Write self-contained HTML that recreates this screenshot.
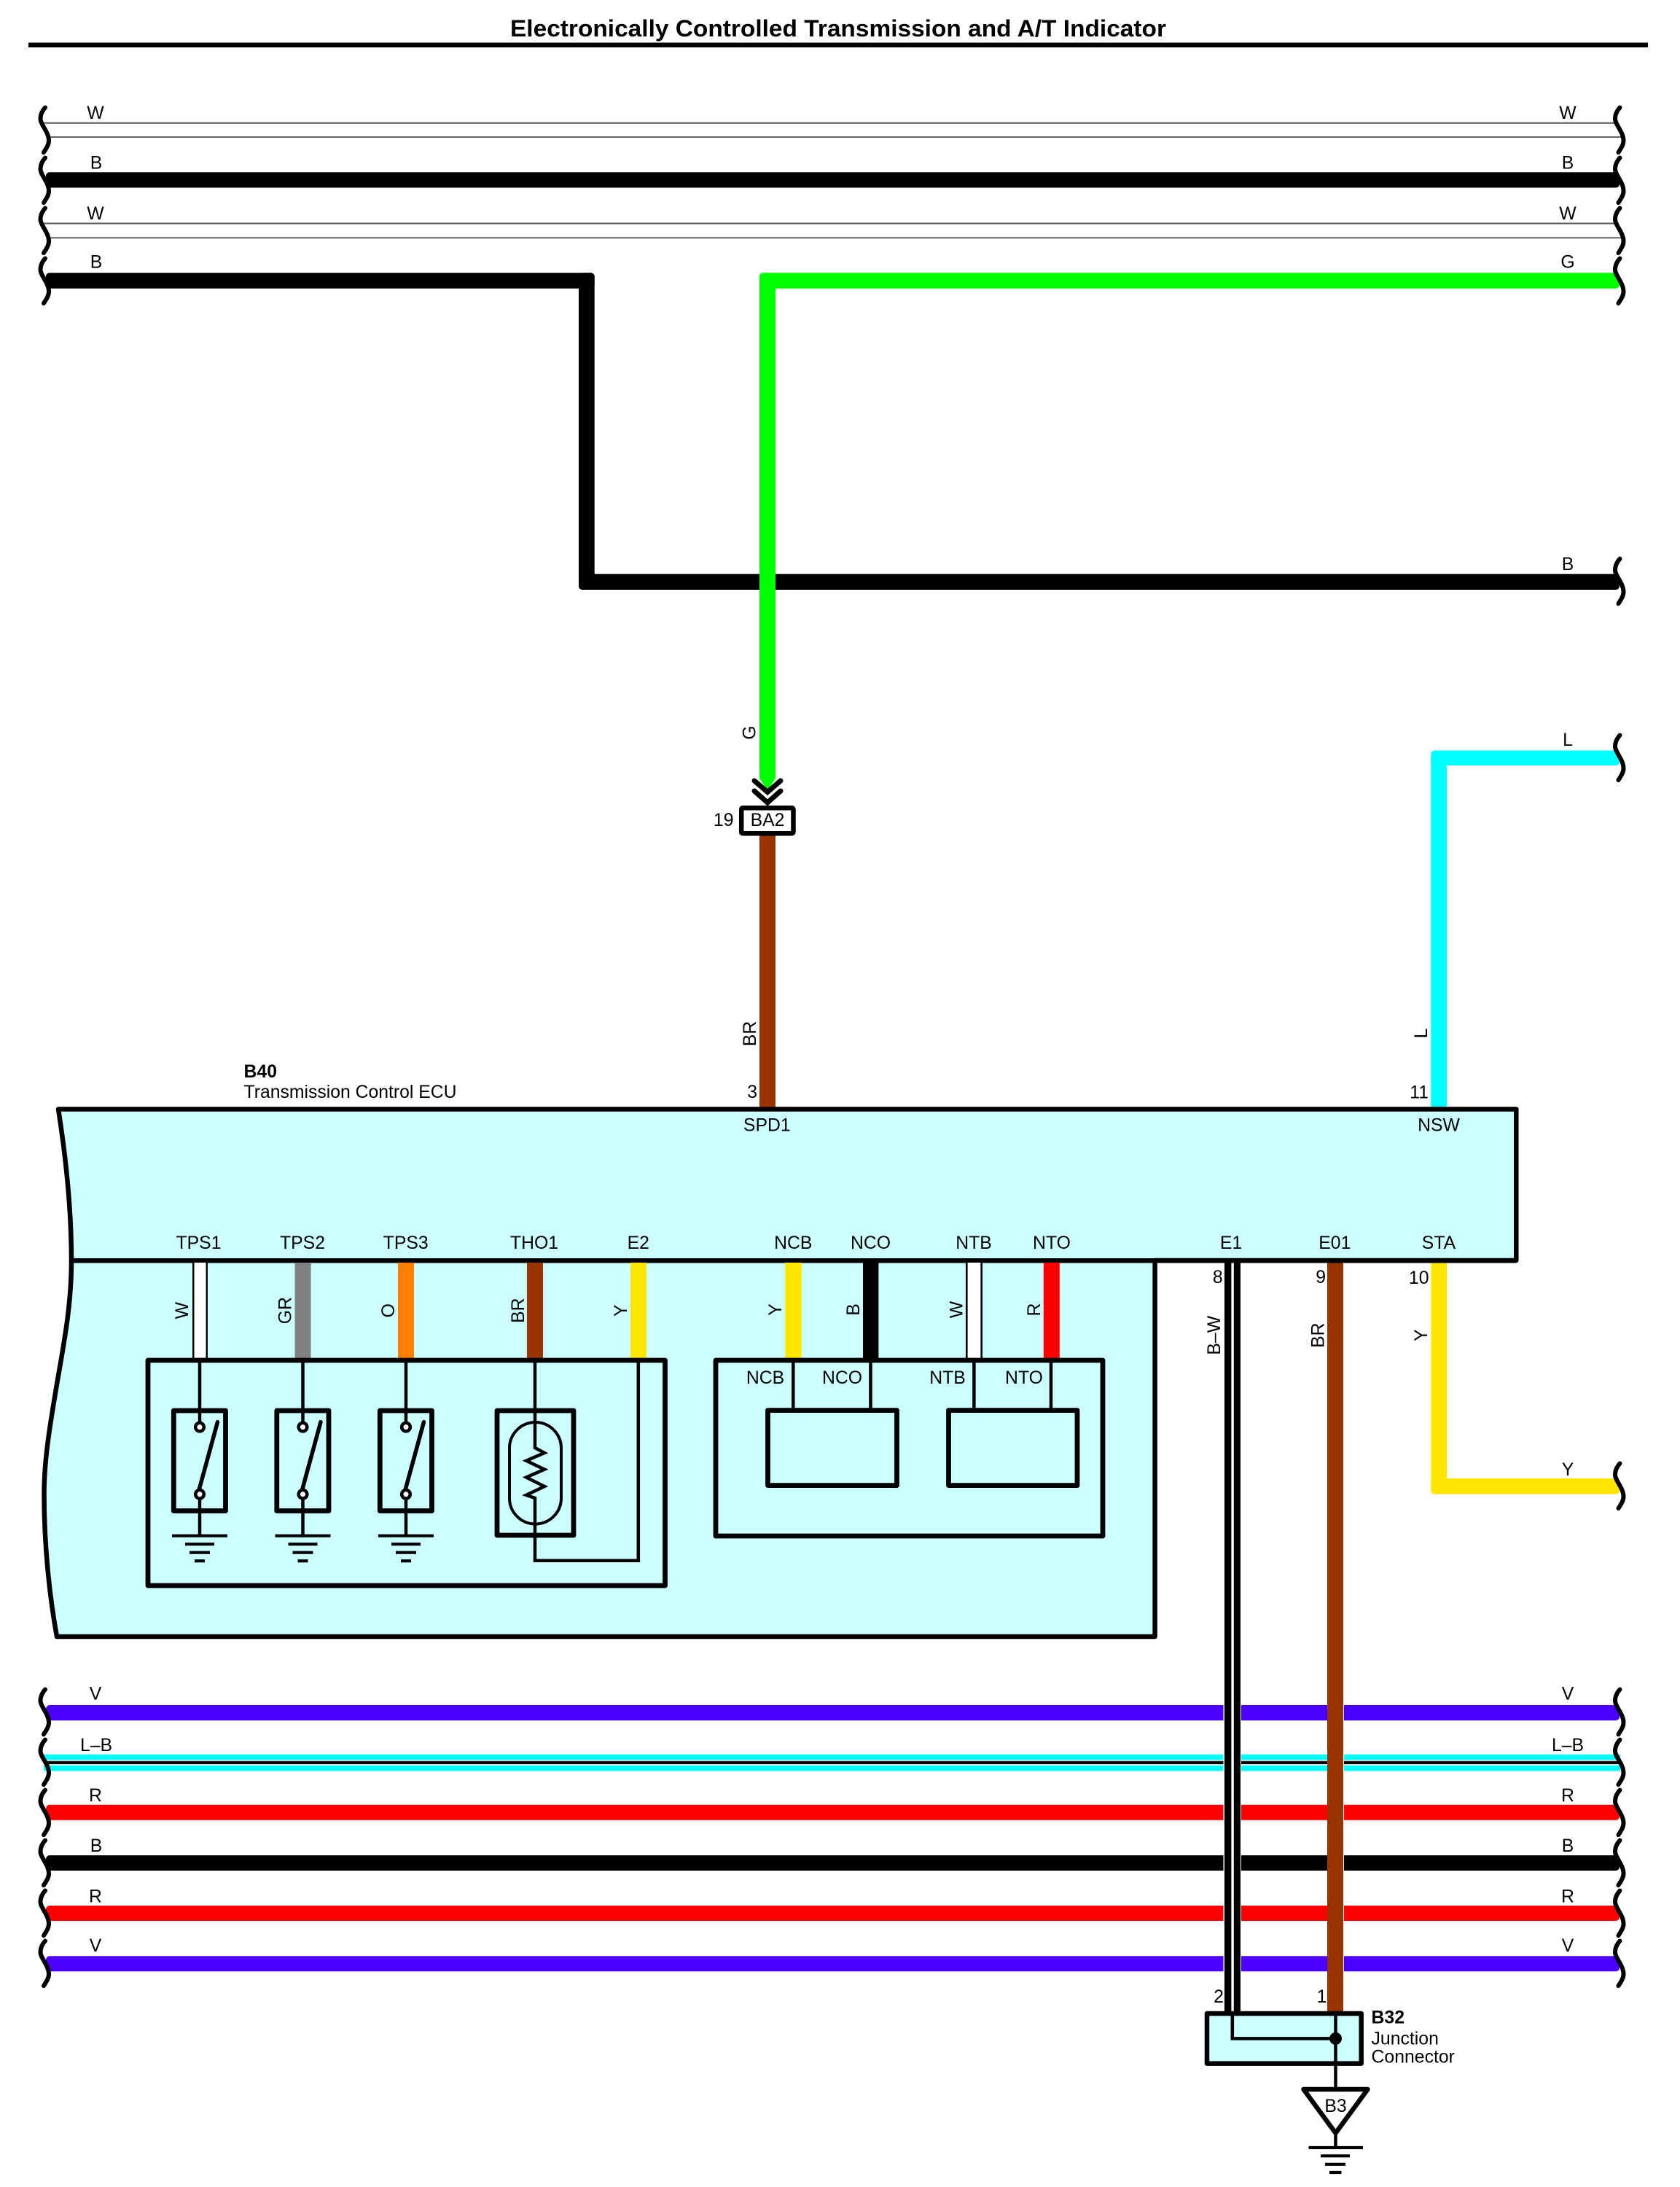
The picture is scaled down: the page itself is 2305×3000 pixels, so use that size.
<!DOCTYPE html>
<html>
<head>
<meta charset="utf-8">
<title>Electronically Controlled Transmission and A/T Indicator</title>
<style>
html,body{margin:0;padding:0;background:#fff}
svg{display:block}
text{font-family:"Liberation Sans",sans-serif;font-size:24.8px;fill:#000}
.m{text-anchor:middle}
.e{text-anchor:end}
.b{font-weight:bold}
.o{fill:none;stroke:#000;stroke-width:6.8;stroke-linejoin:round;stroke-linecap:round}
.t{fill:none;stroke:#000;stroke-width:4.5;stroke-linejoin:miter}
.g{stroke:#000;stroke-width:4.2}
</style>
</head>
<body>
<svg width="2305" height="3000" viewBox="0 0 2305 3000" xmlns="http://www.w3.org/2000/svg">
<defs>
<path id="sq" d="M62 2.5C57 8 55.5 13 55.5 18C55.5 26 67 36 67 48C67 54 63 59 60 64" fill="none" stroke="#000" stroke-width="6" stroke-linecap="round"/>
<g id="gnd">
<line class="g" x1="-38" x2="38" y1="0" y2="0"/>
<line class="g" x1="-20" x2="20" y1="11.5" y2="11.5"/>
<line class="g" x1="-14" x2="14" y1="23" y2="23"/>
<line class="g" x1="-7" x2="7" y1="34.5" y2="34.5"/>
</g>
<g id="sw">
<rect class="o" x="-35.7" y="1935" width="71.2" height="137.5" fill="none"/>
<line class="t" x1="0" x2="0" y1="1866" y2="1951"/>
<line class="t" x1="0" x2="0" y1="2056" y2="2106.7"/>
<line x1="-1" y1="2044" x2="24.5" y2="1950.6" stroke="#000" stroke-width="5.5" stroke-linecap="round"/>
<circle cx="0" cy="1957.6" r="5.8" fill="#fff" stroke="#000" stroke-width="4.5"/>
<circle cx="0" cy="2049.7" r="5.8" fill="#fff" stroke="#000" stroke-width="4.5"/>
<use href="#gnd" x="0" y="2106.7"/>
</g>
</defs>
<rect width="2305" height="3000" fill="#fff"/>

<!-- title -->
<text x="1150" y="50" class="m b" style="font-size:32.5px" textLength="900" lengthAdjust="spacingAndGlyphs">Electronically Controlled Transmission and A/T Indicator</text>
<rect x="39" y="58.5" width="2222" height="6.5" fill="#000"/>

<!-- top wires -->
<line x1="60" x2="2215" y1="168.7" y2="168.7" stroke="#555" stroke-width="2"/>
<line x1="68" x2="2225" y1="188" y2="188" stroke="#666" stroke-width="2"/>
<line x1="60" x2="2215" y1="306.5" y2="306.5" stroke="#555" stroke-width="2"/>
<line x1="68" x2="2225" y1="326.2" y2="326.2" stroke="#666" stroke-width="2"/>
<rect x="63" y="236.3" width="2159" height="21.2" rx="5" fill="#000"/>
<rect x="63" y="374.3" width="752.7" height="21.4" rx="5" fill="#000"/>
<rect x="794" y="374.3" width="21.7" height="434.7" rx="5" fill="#000"/>
<rect x="794" y="787.3" width="1428" height="21.7" rx="5" fill="#000"/>
<rect x="1042" y="374.3" width="1180" height="21.4" rx="5" fill="#00ff00"/>
<path d="M1042 380V1068L1053 1084L1064 1068V380Z" fill="#00ff00"/>
<rect x="1042" y="374.3" width="22" height="30" rx="5" fill="#00ff00"/>

<!-- chevrons & connector BA2 -->
<path d="M1035 1071L1053 1086.5L1071 1071" fill="none" stroke="#000" stroke-width="7" stroke-linecap="round"/>
<path d="M1035 1085L1053 1101L1071 1085" fill="none" stroke="#000" stroke-width="7" stroke-linecap="round"/>
<rect x="1042" y="1146" width="22" height="376" fill="#993300"/>
<rect x="1017.2" y="1108.2" width="71.3" height="35" rx="2" fill="#fff" stroke="#000" stroke-width="6.5"/>
<text x="1053" y="1133" class="m">BA2</text>
<text x="1006.5" y="1133" class="e">19</text>

<!-- L and Y wires right -->
<rect x="1963.3" y="1029.5" width="259" height="20.5" rx="5" fill="#00ffff"/>
<rect x="1963.3" y="1029.5" width="21.7" height="492" rx="5" fill="#00ffff"/>
<rect x="1963.3" y="1729" width="21.7" height="320.5" rx="5" fill="#ffe600"/>
<rect x="1963.3" y="2028" width="259" height="21.5" rx="5" fill="#ffe600"/>

<!-- bottom wires -->
<rect x="63" y="2339" width="2159" height="21" rx="5" fill="#4b00ff"/>
<rect x="60" y="2406.7" width="2163" height="22.6" fill="#00ffff"/>
<rect x="60" y="2414.3" width="2163" height="7.4" fill="#fff"/>
<rect x="60" y="2415.7" width="2163" height="4.4" fill="#000"/>
<rect x="63" y="2475.7" width="2159" height="21" rx="5" fill="#ff0000"/>
<rect x="63" y="2545" width="2159" height="21" rx="5" fill="#000"/>
<rect x="63" y="2614" width="2159" height="21" rx="5" fill="#ff0000"/>
<rect x="63" y="2683.3" width="2159" height="21" rx="5" fill="#4b00ff"/>

<!-- vertical grounds crossing -->
<rect x="1678.5" y="2330" width="24.5" height="380" fill="#fff"/>
<rect x="1821" y="2330" width="23" height="380" fill="#fff"/>
<rect x="1680" y="1730" width="9.4" height="1032" fill="#000"/>
<rect x="1692.8" y="1730" width="9.2" height="1032" fill="#000"/>
<rect x="1821" y="1730" width="22" height="1032" fill="#993300"/>

<!-- squiggles left -->
<use href="#sq" y="145"/><use href="#sq" y="214"/><use href="#sq" y="283"/><use href="#sq" y="352"/>
<use href="#sq" y="2315"/><use href="#sq" y="2384"/><use href="#sq" y="2453"/><use href="#sq" y="2522"/><use href="#sq" y="2591"/><use href="#sq" y="2660"/>
<!-- squiggles right -->
<g transform="translate(2160.5,0)">
<use href="#sq" y="145"/><use href="#sq" y="214"/><use href="#sq" y="283"/><use href="#sq" y="352"/>
<use href="#sq" y="764"/><use href="#sq" y="1006"/><use href="#sq" y="2005"/>
<use href="#sq" y="2315"/><use href="#sq" y="2384"/><use href="#sq" y="2453"/><use href="#sq" y="2522"/><use href="#sq" y="2591"/><use href="#sq" y="2660"/>
</g>

<!-- wire labels -->
<text x="131" y="163" class="m">W</text><text x="2151" y="163" class="m">W</text>
<text x="132" y="231.5" class="m">B</text><text x="2151" y="231.5" class="m">B</text>
<text x="131" y="300.8" class="m">W</text><text x="2151" y="300.8" class="m">W</text>
<text x="132" y="367.5" class="m">B</text><text x="2151" y="367.5" class="m">G</text>
<text x="2151" y="782" class="m">B</text>
<text x="2151" y="1023" class="m">L</text>
<text x="2151" y="2024" class="m">Y</text>
<text x="131" y="2331.3" class="m">V</text><text x="2151" y="2331.3" class="m">V</text>
<text x="132" y="2402" class="m">L–B</text><text x="2151" y="2402" class="m">L–B</text>
<text x="131" y="2471.2" class="m">R</text><text x="2151" y="2471.2" class="m">R</text>
<text x="132" y="2540" class="m">B</text><text x="2151" y="2540" class="m">B</text>
<text x="131" y="2609.3" class="m">R</text><text x="2151" y="2609.3" class="m">R</text>
<text x="131" y="2677" class="m">V</text><text x="2151" y="2677" class="m">V</text>
<text transform="translate(1036.5,1005) rotate(-90)" class="m">G</text>
<text transform="translate(1037,1418) rotate(-90)" class="m">BR</text>
<text transform="translate(1958,1417.5) rotate(-90)" class="m">L</text>
<text transform="translate(1958,1831.6) rotate(-90)" class="m">Y</text>
<text transform="translate(1674,1831.7) rotate(-90)" class="m">B–W</text>
<text transform="translate(1816.3,1831.7) rotate(-90)" class="m">BR</text>
<text x="1039" y="1506" class="e">3</text>
<text x="1960" y="1506.5" class="e">11</text>
<text x="1677.7" y="1760" class="e">8</text>
<text x="1819" y="1760" class="e">9</text>
<text x="1960.5" y="1761" class="e">10</text>

<!-- ECU -->
<text x="334.5" y="1478" class="b">B40</text>
<text x="334.5" y="1506" textLength="292" lengthAdjust="spacingAndGlyphs">Transmission Control ECU</text>
<path d="M80 1521.5H2080.3V1729H1584.6V2245H78C68 2190 60.5 2120 60.5 2050C60.5 2010 66 1970 75 1917C84 1860 98 1800 98 1729.5C98 1660 90 1585 80 1521.5Z" fill="#ccffff" stroke="#000" stroke-width="6.5" stroke-linejoin="round"/>
<line x1="98" x2="2080" y1="1729.3" y2="1729.3" stroke="#000" stroke-width="6.5"/>
<text x="1052.3" y="1551.5" class="m">SPD1</text>
<text x="1974" y="1551.5" class="m">NSW</text>
<text x="272.5" y="1712.8" class="m">TPS1</text>
<text x="415" y="1712.8" class="m">TPS2</text>
<text x="556.7" y="1712.8" class="m">TPS3</text>
<text x="733" y="1712.8" class="m">THO1</text>
<text x="875.8" y="1712.8" class="m">E2</text>
<text x="1088.3" y="1712.8" class="m">NCB</text>
<text x="1194.5" y="1712.8" class="m">NCO</text>
<text x="1336" y="1712.8" class="m">NTB</text>
<text x="1443" y="1712.8" class="m">NTO</text>
<text x="1689" y="1712.8" class="m">E1</text>
<text x="1831.3" y="1712.8" class="m">E01</text>
<text x="1974" y="1712.8" class="m">STA</text>

<!-- ECU inner colored wires -->
<rect x="264" y="1732" width="21" height="131" fill="#fff"/>
<rect x="264" y="1732" width="2.5" height="131" fill="#000"/>
<rect x="282.5" y="1732" width="2.5" height="131" fill="#000"/>
<rect x="404.5" y="1732" width="22" height="131" fill="#808080"/>
<rect x="546" y="1732" width="22" height="131" fill="#ff8000"/>
<rect x="723" y="1732" width="22" height="131" fill="#993300"/>
<rect x="865" y="1732" width="22" height="131" fill="#ffe600"/>
<rect x="1077.3" y="1732" width="22.5" height="131" fill="#ffe600"/>
<rect x="1184" y="1732" width="21.4" height="131" fill="#000"/>
<rect x="1325" y="1732" width="23" height="131" fill="#fff"/>
<rect x="1325" y="1732" width="2.6" height="131" fill="#000"/>
<rect x="1345.4" y="1732" width="2.6" height="131" fill="#000"/>
<rect x="1431.8" y="1732" width="22" height="131" fill="#ff0000"/>
<text transform="translate(258,1797.7) rotate(-90)" class="m">W</text>
<text transform="translate(399.5,1797.7) rotate(-90)" class="m">GR</text>
<text transform="translate(541,1797.7) rotate(-90)" class="m">O</text>
<text transform="translate(719,1797.7) rotate(-90)" class="m">BR</text>
<text transform="translate(860,1797.7) rotate(-90)" class="m">Y</text>
<text transform="translate(1072,1796.5) rotate(-90)" class="m">Y</text>
<text transform="translate(1179,1796.5) rotate(-90)" class="m">B</text>
<text transform="translate(1320.5,1796.5) rotate(-90)" class="m">W</text>
<text transform="translate(1427,1796.5) rotate(-90)" class="m">R</text>

<!-- left sensor box -->
<rect class="o" x="203" y="1866" width="709.5" height="309"/>
<use href="#sw" x="274"/>
<use href="#sw" x="415.5"/>
<use href="#sw" x="557"/>
<!-- thermistor -->
<rect class="o" x="682" y="1935" width="105" height="171"/>
<rect x="699" y="1951" width="71" height="139.5" rx="35.5" fill="none" stroke="#000" stroke-width="4"/>
<path class="t" d="M734 1866V1986L747 1993L722 2003.7L747 2015.6L722 2026.5L747 2039L722 2050.8L734 2055V2140.8H875.8V1866"/>

<!-- right logic box -->
<rect class="o" x="982" y="1866" width="531" height="241"/>
<rect class="o" x="1053.5" y="1934.6" width="177" height="103"/>
<rect class="o" x="1301.5" y="1934.6" width="176.5" height="103"/>
<line class="t" x1="1088.3" x2="1088.3" y1="1866" y2="1934"/>
<line class="t" x1="1194.5" x2="1194.5" y1="1866" y2="1934"/>
<line class="t" x1="1336.4" x2="1336.4" y1="1866" y2="1934"/>
<line class="t" x1="1442" x2="1442" y1="1866" y2="1934"/>
<text x="1050" y="1898" class="m">NCB</text>
<text x="1155.5" y="1898" class="m">NCO</text>
<text x="1300" y="1898" class="m">NTB</text>
<text x="1405" y="1898" class="m">NTO</text>

<!-- junction connector -->
<text x="1672" y="2747" class="m">2</text>
<text x="1813.5" y="2747" class="m">1</text>
<rect x="1656" y="2762" width="211.7" height="68.6" fill="#ccffff" stroke="#000" stroke-width="6.5" stroke-linejoin="round"/>
<path class="t" d="M1690.8 2762V2796.4H1832.5"/>
<line class="t" x1="1832.5" x2="1832.5" y1="2762" y2="2866"/>
<circle cx="1832.5" cy="2796.4" r="8.5" fill="#000"/>
<text x="1881.5" y="2775.5" class="b">B32</text>
<text x="1881.5" y="2804.5">Junction</text>
<text x="1881.5" y="2829.5">Connector</text>

<!-- ground B3 -->
<path d="M1788.5 2866H1876.5L1832.5 2926Z" fill="#fff" stroke="#000" stroke-width="6.5" stroke-linejoin="round"/>
<text x="1832.5" y="2897" class="m">B3</text>
<line class="t" x1="1832.5" x2="1832.5" y1="2926" y2="2946"/>
<line class="g" x1="1795.5" x2="1870" y1="2946" y2="2946"/>
<line class="g" x1="1812" x2="1852" y1="2957.3" y2="2957.3"/>
<line class="g" x1="1818" x2="1846" y1="2968.8" y2="2968.8"/>
<line class="g" x1="1824" x2="1840.5" y1="2980" y2="2980"/>
</svg>
</body>
</html>
